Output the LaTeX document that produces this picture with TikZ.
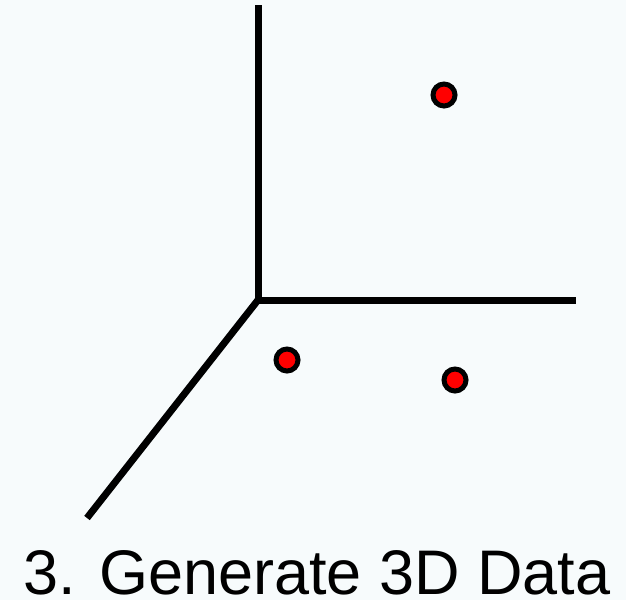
\documentclass[tikz,border=0pt]{standalone}
\usepackage{fontspec}
\setmainfont{Liberation Sans}
\usepackage{xcolor}
\usetikzlibrary{positioning}

\definecolor{paper}{RGB}{247,251,252}

\tikzset{
    axis/.style={line width=7pt, line cap=butt},
    datapoint/.style={circle, draw=black, fill=red, line width=5pt, minimum size=22pt, inner sep=0pt}
}

\begin{document}
\begin{tikzpicture}[x=1pt, y=-1pt]
    % Background
    \fill[paper] (0,0) rectangle (626,600);
    \useasboundingbox (0,0) rectangle (626,600);

    % Axes
    \coordinate (origin) at (258,300);
    \coordinate (zend) at (258,5);
    \coordinate (xend) at (576,300);
    \coordinate (yend) at (87,518);
    \draw[axis] (origin) -- (zend);
    \draw[axis] (origin) -- (xend);
    \draw[axis] (origin) -- (yend);

    % Data points
    \node (p1) [datapoint] at (444,95) {};
    \node (p2) [datapoint] at (287,360) {};
    \node (p3) [datapoint] at (455,380) {};

    % Caption
    \node (caption) [anchor=base, inner sep=0pt, font=\fontsize{63}{70}\selectfont] at (317,594) {3. Generate 3D Data};
\end{tikzpicture}
\end{document}
